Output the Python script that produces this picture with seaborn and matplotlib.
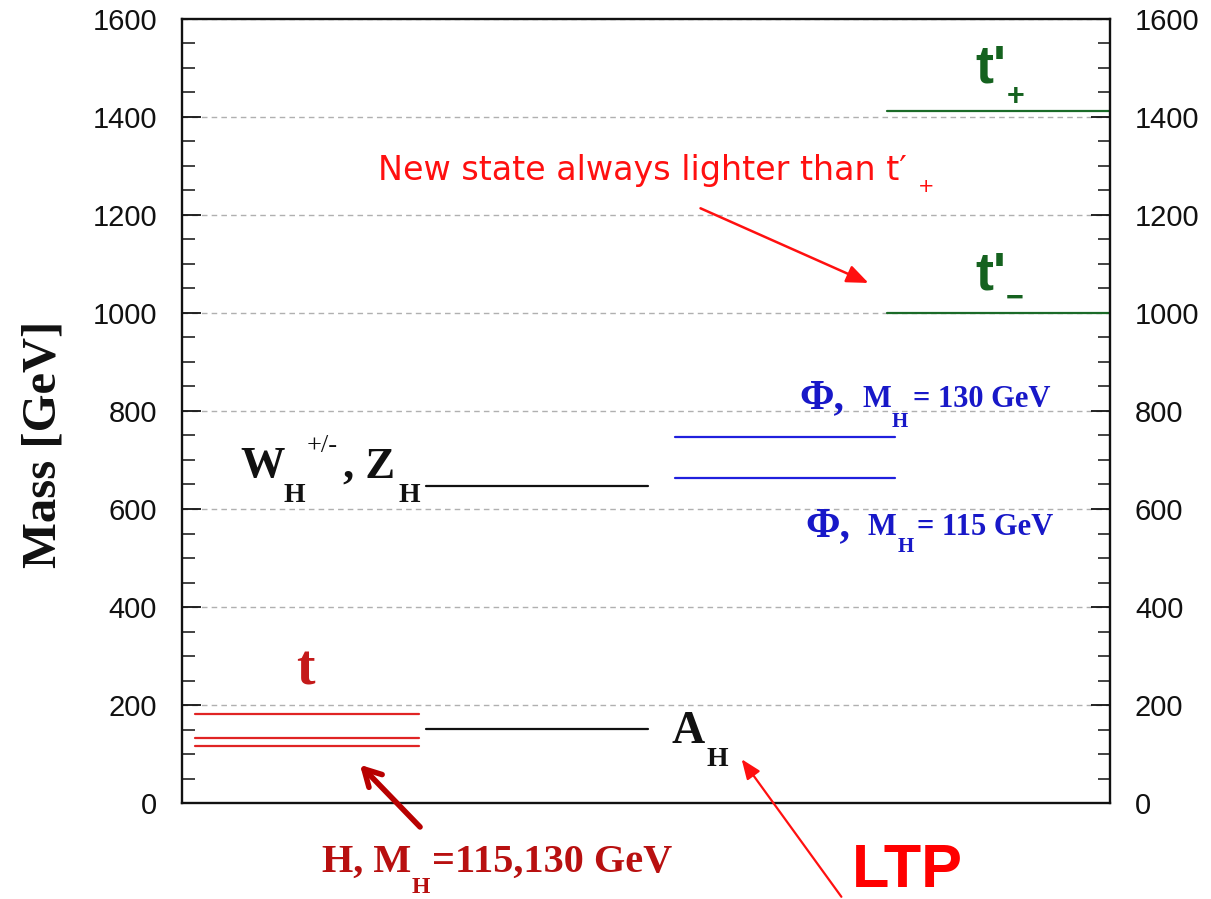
import matplotlib
matplotlib.use("Agg")
import matplotlib.pyplot as plt
import seaborn as sns
import pandas as pd
from matplotlib.ticker import MultipleLocator

# ---------------- data (masses in GeV) ----------------
top_higgs_masses = [181, 133, 117]   # t, H (M_H=130), H (M_H=115)
ah_masses = [152]                    # A_H (LTP)
gauge_masses = [647]                 # W_H, Z_H
phi_masses = [746, 663]              # Phi for M_H = 130, 115 GeV
tprime_masses = [1413, 999]          # t'_+, t'_-
y_ticks = [0, 200, 400, 600, 800, 1000, 1200, 1400, 1600]
y_tick_labels = ["0", "200", "400", "600", "800", "1000", "1200", "1400", "1600"]

# columns: (start, end) on a 0..1 horizontal scale, colour
columns = {
    "top": ((0.014, 0.255), "#e02424"),
    "ah": ((0.263, 0.502), "#111111"),
    "gauge": ((0.263, 0.502), "#111111"),
    "phi": ((0.531, 0.768), "#2020dd"),
    "tprime": ((0.760, 1.0), "#1b6b28"),
}
groups = {
    "top": top_higgs_masses,
    "ah": ah_masses,
    "gauge": gauge_masses,
    "phi": phi_masses,
    "tprime": tprime_masses,
}

rows = []
for g, masses in groups.items():
    (x0, x1), _ = columns[g]
    for i, m in enumerate(masses):
        for xx in (x0, x1):
            rows.append({"group": g, "level": f"{g}{i}", "x": xx, "mass": m})
df = pd.DataFrame(rows)
palette = {g: c for g, ((_, _), c) in columns.items()}

# ---------------- figure ----------------
sns.set_theme(style="ticks")
plt.rcParams["font.family"] = ["Liberation Sans", "DejaVu Sans"]

fig = plt.figure(figsize=(12.11, 8.99), dpi=100)
ax = fig.add_axes([182 / 1211, 1 - 803 / 899, (1110 - 182) / 1211, (803 - 19) / 899])

sns.lineplot(data=df, x="x", y="mass", hue="group", units="level", estimator=None,
             palette=palette, legend=False, linewidth=1.6, sort=False, ax=ax)

ax.set_xlim(0, 1)
ax.set_ylim(0, 1600)
ax.set_xticks([])
ax.set_xlabel("")
ax.set_yticks(y_ticks)
ax.set_yticklabels(y_tick_labels)
ax.yaxis.set_minor_locator(MultipleLocator(50))
ax.tick_params(axis="y", which="both", direction="in", left=True, right=True,
               labelleft=True, labelright=True, colors="#111111", labelsize=21)
ax.tick_params(axis="y", which="major", length=14, width=1.3, pad=18)
ax.tick_params(axis="y", which="minor", length=9, width=1.1)
for s in ax.spines.values():
    s.set_visible(True)
    s.set_linewidth(1.7)
    s.set_color("#111111")
ax.yaxis.grid(True, which="major", linestyle=(0, (4, 3)), color="#b0b0b0", linewidth=1.0)
ax.set_axisbelow(True)

ax.set_ylabel("Mass [GeV]", fontsize=35, fontweight="bold", family="Liberation Serif", color="#111111")
ax.yaxis.set_label_coords(-0.126, 0.457)

serif = "Liberation Serif"
sans = ["Liberation Sans", "DejaVu Sans"]


def txt(x, y, s, size, color, family=serif, weight="bold", ha="left"):
    ax.text(x, y, s, fontsize=size, color=color, family=family, fontweight=weight,
            ha=ha, va="baseline", clip_on=False)


# t label
txt(0.1325, 241, "t", 40, "#c41a1a", ha="center")
# W_H^{+/-}, Z_H
txt(0.0625, 665, "W", 32, "#111111")
txt(0.109, 614, "H", 20, "#111111")
txt(0.1347, 716, "+/-", 19, "#111111", weight="normal")
txt(0.1735, 665, ", Z", 32, "#111111")
txt(0.2328, 614, "H", 20, "#111111")
# A_H
txt(0.528, 122, "A", 33, "#111111")
txt(0.5657, 75, "H", 20, "#111111")
# Phi labels
blue_t = "#1818c8"
txt(0.665, 806, "Φ,", 30, blue_t)
txt(0.7338, 808, "M", 22, blue_t)
txt(0.7651, 767, "H", 15, blue_t)
txt(0.7877, 808, "= 130 GeV", 22, blue_t)
txt(0.672, 545, "Φ,", 30, blue_t)
txt(0.7392, 547, "M", 22, blue_t)
txt(0.7716, 512, "H", 15, blue_t)
txt(0.7920, 547, "= 115 GeV", 22, blue_t)
# t' labels
green_t = "#15621f"
txt(0.8545, 1471, "t'", 39, green_t, family=sans)
txt(0.889, 1424, "+", 22, green_t, family=sans)
txt(0.8545, 1047, "t'", 39, green_t, family=sans)
txt(0.888, 1014, "−", 22, green_t, family=sans)

# New state annotation
txt(0.2112, 1271, "New state always lighter than t′", 24, "#ff1010", family="DejaVu Sans", weight="normal")
txt(0.793, 1247, "+", 14, "#ff1010", family="DejaVu Sans", weight="normal")
ax.annotate("", xy=(0.7425, 1059), xytext=(0.556, 1216), annotation_clip=False,
            arrowprops=dict(arrowstyle="-|>,head_length=1.1,head_width=0.45", color="#ff1010", lw=1.8))

# H label below axis
dred = "#b81010"
txt(0.1509, -141, "H, M", 29, dred)
txt(0.2478, -184, "H", 17, dred)
txt(0.2694, -141, "=115,130 GeV", 29, dred)
ax.annotate("", xy=(0.1897, 82), xytext=(0.2586, -53), annotation_clip=False,
            arrowprops=dict(arrowstyle="->,head_length=1.0,head_width=0.55", color="#b80000", lw=4))

# LTP
txt(0.722, -171, "LTP", 44, "#ff0000", family=sans)
ax.annotate("", xy=(0.6013, 94), xytext=(0.7123, -196), annotation_clip=False,
            arrowprops=dict(arrowstyle="-|>,head_length=1.0,head_width=0.4", color="#ff1010", lw=1.6))

fig.savefig("out.png", dpi=100)
